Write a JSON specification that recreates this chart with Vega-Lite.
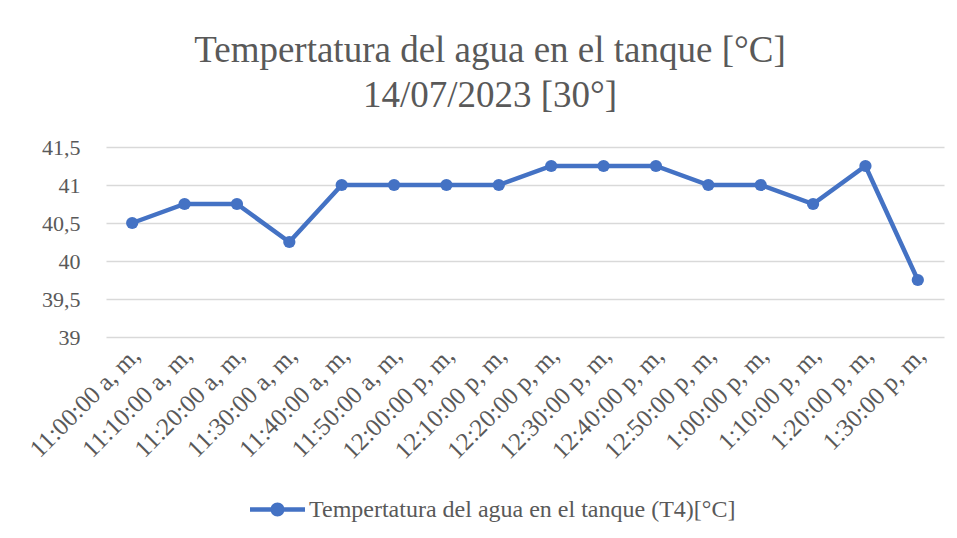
{
  "$schema": "https://vega.github.io/schema/vega-lite/v6.json",
  "autosize": "none",
  "width": 838,
  "height": 190,
  "padding": {"left": 106, "top": 147, "right": 13, "bottom": 201},
  "background": "white",
  "title": {
    "text": ["Tempertatura del agua en el tanque [°C]", "14/07/2023 [30°]"],
    "font": "Liberation Serif",
    "fontSize": 37,
    "fontWeight": "normal",
    "color": "#595959",
    "anchor": "middle",
    "dx": -35,
    "lineHeight": 45,
    "offset": 21
  },
  "data": {
    "values": [
      {"hora": "11:00:00 a, m,", "temp": 40.5, "serie": "Tempertatura del agua en el tanque (T4)[°C]"},
      {"hora": "11:10:00 a, m,", "temp": 40.75, "serie": "Tempertatura del agua en el tanque (T4)[°C]"},
      {"hora": "11:20:00 a, m,", "temp": 40.75, "serie": "Tempertatura del agua en el tanque (T4)[°C]"},
      {"hora": "11:30:00 a, m,", "temp": 40.25, "serie": "Tempertatura del agua en el tanque (T4)[°C]"},
      {"hora": "11:40:00 a, m,", "temp": 41, "serie": "Tempertatura del agua en el tanque (T4)[°C]"},
      {"hora": "11:50:00 a, m,", "temp": 41, "serie": "Tempertatura del agua en el tanque (T4)[°C]"},
      {"hora": "12:00:00 p, m,", "temp": 41, "serie": "Tempertatura del agua en el tanque (T4)[°C]"},
      {"hora": "12:10:00 p, m,", "temp": 41, "serie": "Tempertatura del agua en el tanque (T4)[°C]"},
      {"hora": "12:20:00 p, m,", "temp": 41.25, "serie": "Tempertatura del agua en el tanque (T4)[°C]"},
      {"hora": "12:30:00 p, m,", "temp": 41.25, "serie": "Tempertatura del agua en el tanque (T4)[°C]"},
      {"hora": "12:40:00 p, m,", "temp": 41.25, "serie": "Tempertatura del agua en el tanque (T4)[°C]"},
      {"hora": "12:50:00 p, m,", "temp": 41, "serie": "Tempertatura del agua en el tanque (T4)[°C]"},
      {"hora": "1:00:00 p, m,", "temp": 41, "serie": "Tempertatura del agua en el tanque (T4)[°C]"},
      {"hora": "1:10:00 p, m,", "temp": 40.75, "serie": "Tempertatura del agua en el tanque (T4)[°C]"},
      {"hora": "1:20:00 p, m,", "temp": 41.25, "serie": "Tempertatura del agua en el tanque (T4)[°C]"},
      {"hora": "1:30:00 p, m,", "temp": 39.75, "serie": "Tempertatura del agua en el tanque (T4)[°C]"}
    ]
  },
  "encoding": {
    "x": {
      "field": "hora",
      "type": "nominal",
      "sort": null,
      "title": null,
      "axis": {
        "labelAngle": -45,
        "labelAlign": "right",
        "labelBaseline": "middle",
        "labelFont": "Liberation Serif",
        "labelFontSize": 25,
        "labelColor": "#595959",
        "labelPadding": 14,
        "labelOffset": 3,
        "labelOverlap": false,
        "ticks": false,
        "domain": false,
        "grid": false
      }
    },
    "y": {
      "field": "temp",
      "type": "quantitative",
      "title": null,
      "scale": {"domain": [39, 41.5], "zero": false, "nice": false},
      "axis": {
        "values": [39, 39.5, 40, 40.5, 41, 41.5],
        "labelExpr": "replace(format(datum.value, ''), '.', ',')",
        "labelFont": "Liberation Serif",
        "labelFontSize": 22,
        "labelColor": "#595959",
        "labelPadding": 26,
        "ticks": false,
        "domain": false,
        "grid": true,
        "gridColor": "#d9d9d9",
        "gridWidth": 1.3
      }
    },
    "color": {
      "field": "serie",
      "type": "nominal",
      "scale": {"range": ["#4472C4"]},
      "legend": {
        "title": null,
        "orient": "none",
        "legendX": 144,
        "legendY": 335,
        "labelFont": "Liberation Serif",
        "labelFontSize": 24,
        "labelLimit": 700,
        "labelColor": "#595959",
        "symbolType": "M-1,-0.082 L1,-0.082 L1,0.082 L-1,0.082 Z M0.255,0 A0.255,0.255 0 1,1 -0.255,0 A0.255,0.255 0 1,1 0.255,0 Z",
        "symbolSize": 3025,
        "symbolFillColor": "#4472C4",
        "symbolStrokeWidth": 0,
        "labelOffset": 4
      }
    }
  },
  "layer": [
    {"mark": {"type": "line", "strokeWidth": 4.5}},
    {"mark": {"type": "point", "filled": true, "size": 150, "opacity": 1}}
  ],
  "config": {"view": {"stroke": null}}
}
